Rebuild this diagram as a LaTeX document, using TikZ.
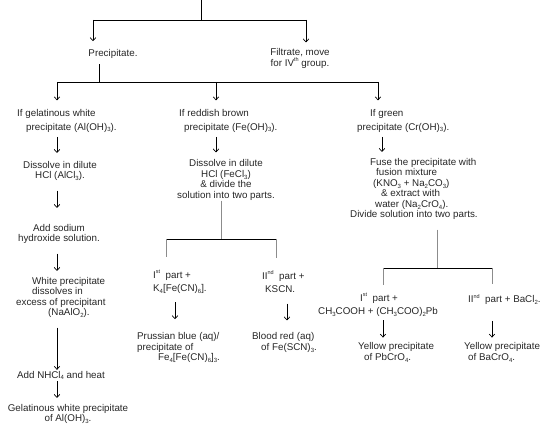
\documentclass[tikz,border=0pt]{standalone}
\usepackage{fontspec}
\setmainfont{Liberation Sans}
\usetikzlibrary{arrows.meta}
\newcommand{\sbs}[1]{\raisebox{-0.35ex}{\fontsize{6}{6}\selectfont #1}}
\newcommand{\sps}[1]{\raisebox{0.85ex}{\fontsize{5.5}{6}\selectfont #1}}
\begin{document}
\begin{tikzpicture}[x=1pt,y=-1pt,
  txt/.style={inner sep=0pt, font=\fontsize{9.8}{10.5}\selectfont, text=black!85},
  lt/.style={txt, align=left, anchor=west},
  ct/.style={txt, align=center},
  ln/.style={line width=0.8pt, black},
  gln/.style={line width=0.8pt, black!45},
  arr/.style={line width=0.7pt, -{Straight Barb[length=3pt,width=5.5pt]}},
]
\useasboundingbox (0,0) rectangle (560,430);
% top
\coordinate (t0) at (201,0);
\coordinate (t1) at (201,20);
\coordinate (tl) at (93,20);
\coordinate (tr) at (306,20);
\node[ct] (prec) at (113,54) {Precipitate.};
\node[ct] (filt) at (300,58.5) {Filtrate, move\\for IV\sps{th} group.};
\draw[ln] (t0) -- (t1);
\draw[ln] (tl) -- (tr);
\draw[arr, shorten >=8pt] (tl) -- (prec.north -| tl);
\draw[arr, shorten >=6pt] (tr) -- (filt.north -| tr);
\coordinate (m0) at (99,82);
\draw[ln, shorten <=5.5pt] (prec.south -| m0) -- (m0);
\coordinate (ml) at (57,82);
\coordinate (mm) at (216,82);
\coordinate (mr) at (378,82);
\draw[ln] (ml) -- (mr);
% left column
\node[lt] (a1) at (17,120.9) {If gelatinous white\\[3pt]\hspace*{9pt}precipitate (Al(OH)\sbs{3}).};
\node[ct] (a2) at (60,171) {Dissolve in dilute\\HCl (AlCl\sbs{3}).};
\node[ct] (a3) at (59,234) {Add sodium\\hydroxide solution.};
\node[lt] (a4) at (16,297.5) {\hspace*{16pt}White precipitate\\\hspace*{16pt}dissolves in\\excess of precipitant\\\hspace*{32pt}(NaAlO\sbs{2}).};
\node[ct] (a5) at (61,375.5) {Add NHCl\sbs{4} and heat};
\node[ct] (a6) at (68,414) {Gelatinous white precipitate\\of Al(OH)\sbs{3}.};
\draw[arr, shorten >=9pt] (ml) -- (a1.north -| ml);
\draw[arr, shorten <=4.5pt, shorten >=8pt] (a1.south -| ml) -- (a2.north -| ml);
\draw[arr, shorten <=9.5pt, shorten >=16pt] (a2.south -| ml) -- (a3.north -| ml);
\draw[arr, shorten <=9.5pt, shorten >=6pt] (a3.south -| ml) -- (a4.north -| ml);
\draw[arr, shorten <=9.5pt, shorten >=1pt] (a4.south -| ml) -- (a5.north -| ml);
\draw[arr, shorten <=1pt, shorten >=6pt] (a5.south -| ml) -- (a6.north -| ml);
% middle column
\node[lt] (b1) at (179,120.9) {If reddish brown\\[3pt]\hspace*{5pt}precipitate (Fe(OH)\sbs{3}).};
\draw[arr, shorten >=9pt] (mm) -- (b1.north -| mm);
\node[ct] (b2) at (226,180) {Dissolve in dilute\\HCl (FeCl\sbs{3})\\\& divide the\\solution into two parts.};
\draw[arr, shorten <=4.5pt, shorten >=7pt] (b1.south -| mm) -- (b2.north -| mm);
\coordinate (s1) at (221,239);
\coordinate (s1l) at (166,239);
\coordinate (s1r) at (276,239);
\draw[gln] (b2.south -| s1) -- (s1);
\draw[ln] (s1l) -- (s1r);
\node[lt] (b3) at (153,281.9) {I\sps{st}\ \ part +\\[3pt]K\sbs{4}[Fe(CN)\sbs{6}].};
\node[lt] (b4) at (262,281.9) {II\sps{nd}\ \ part +\\[3pt]\hspace*{3pt}KSCN.};
\draw[gln, shorten >=13pt] (s1l) -- (b3.north -| s1l);
\draw[gln, shorten >=13pt] (s1r) -- (b4.north -| s1r);
\node[lt] (b5) at (137,347.5) {Prussian blue (aq)/\\precipitate of\\\hspace*{21pt}Fe\sbs{4}[Fe(CN)\sbs{6}]\sbs{3}.};
\node[lt] (b6) at (252,342.5) {Blood red (aq)\\\hspace*{9pt}of Fe(SCN)\sbs{3}.};
\coordinate (x1) at (175,0);
\coordinate (x2) at (287,0);
\draw[arr, shorten <=8.5pt, shorten >=13pt] (b3.south -| x1) -- (b5.north -| x1);
\draw[arr, shorten <=10.5pt, shorten >=12pt] (b4.south -| x2) -- (b6.north -| x2);
% right column
\node[lt] (c1) at (357,120.9) {\hspace*{13pt}If green\\[3pt]precipitate (Cr(OH)\sbs{3}).};
\draw[arr, shorten >=9pt] (mr) -- (c1.north -| mr);
\coordinate (x3) at (382,0);
\node[lt] (c2) at (350,189) {\hspace*{20pt}Fuse the precipitate with\\\hspace*{26pt}fusion mixture\\\hspace*{23pt}(KNO\sbs{3} + Na\sbs{2}CO\sbs{3})\\\hspace*{31pt}\& extract with\\\hspace*{25pt}water (Na\sbs{2}CrO\sbs{4}).\\Divide solution into two parts.};
\draw[arr, shorten <=4.5pt, shorten >=6pt] (c1.south -| x3) -- (c2.north -| x3);
\coordinate (s2) at (437,268);
\coordinate (s2l) at (383,268);
\coordinate (s2r) at (492,268);
\draw[gln, shorten <=9.5pt] (c2.south -| s2) -- (s2);
\draw[ln] (s2l) -- (s2r);
\node[lt] (c3) at (318,304.9) {\hspace*{42pt}I\sps{st}\ \ part +\\[3pt]CH\sbs{3}COOH + (CH\sbs{3}COO)\sbs{2}Pb};
\node[lt] (c4) at (468,299.5) {II\sps{nd}\ \ part + BaCl\sbs{2}.};
\draw[gln, shorten >=8pt] (s2l) -- (c3.north -| s2l);
\draw[gln, shorten >=10pt] (s2r) -- (c4.north -| s2r);
\node[lt] (c5) at (358,352.5) {Yellow precipitate\\\hspace*{6pt}of PbCrO\sbs{4}.};
\node[lt] (c6) at (464,352.5) {Yellow precipitate\\\hspace*{4pt}of BaCrO\sbs{4}.};
\draw[arr, shorten <=3.5pt, shorten >=5pt] (c3.south -| s2l) -- (c5.north -| s2l);
\draw[arr, shorten <=16pt, shorten >=5pt] (c4.south -| s2r) -- (c6.north -| s2r);
\end{tikzpicture}
\end{document}
